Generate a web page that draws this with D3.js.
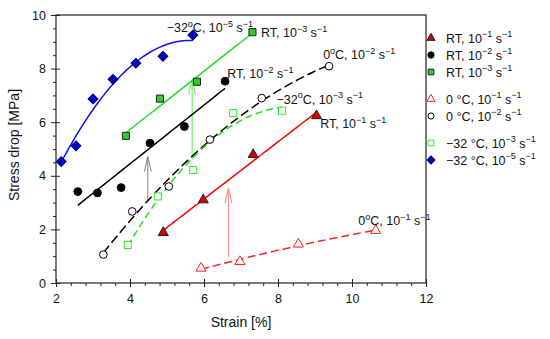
<!DOCTYPE html>
<html>
<head>
<meta charset="utf-8">
<script src="https://cdn.jsdelivr.net/npm/d3@7"></script>
<style>
body { margin: 0; background: #fff; }
text { font-family: Arial, "Liberation Sans", sans-serif; fill: #111; }
</style>
</head>
<body>
<svg id="svg" width="550" height="339"></svg>
<script>
// values: strain [%] vs stress drop [MPa]
var rt1Strain = [4.90, 5.98, 7.33, 9.04];
var rt1Drop   = [1.88, 3.10, 4.79, 6.24];
var rt2Strain = [2.59, 3.12, 3.76, 4.54, 5.47, 6.57];
var rt2Drop   = [3.41, 3.36, 3.56, 5.22, 5.84, 7.53];
var rt3Strain = [3.89, 4.81, 5.81, 7.31];
var rt3Drop   = [5.49, 6.88, 7.51, 9.36];
var c0r1Strain = [5.92, 6.97, 8.55, 10.64];
var c0r1Drop   = [0.55, 0.80, 1.45, 1.96];
var c0r2Strain = [3.28, 4.06, 5.05, 6.16, 7.56, 9.38];
var c0r2Drop   = [1.06, 2.67, 3.60, 5.35, 6.90, 8.09];
var m32r3Strain = [3.94, 4.75, 5.71, 6.79, 8.11];
var m32r3Drop   = [1.42, 3.23, 4.22, 6.34, 6.43];
var m32r5Strain = [2.14, 2.54, 3.00, 3.54, 4.16, 4.89, 5.70];
var m32r5Drop   = [4.53, 5.12, 6.87, 7.60, 8.20, 8.46, 9.25];

var xTicks = [2, 4, 6, 8, 10, 12];
var yTicks = [0, 2, 4, 6, 8, 10];

// series: legend label, in-plot label, fit degree, styles
var series = [
  {name: "RT, 10^{\u22121} s^{\u22121}", note: "RT, 10^{\u22121} s^{\u22121}", xs: rt1Strain, ys: rt1Drop, deg: 1,
   sym: d3.symbolTriangle, size: 44, fill: "#d40000", stroke: "#222", line: "#ff0000", dash: null},
  {name: "RT, 10^{\u22122} s^{\u22121}", note: "RT, 10^{\u22122} s^{\u22121}", xs: rt2Strain, ys: rt2Drop, deg: 1,
   sym: d3.symbolCircle, size: 48, fill: "#000", stroke: "#000", line: "#000", dash: null},
  {name: "RT, 10^{\u22123} s^{\u22121}", note: "RT, 10^{\u22123} s^{\u22121}", xs: rt3Strain, ys: rt3Drop, deg: 1,
   sym: d3.symbolSquare, size: 50, fill: "#2ecc2e", stroke: "#222", line: "#22dd22", dash: null},
  {name: "0 \u00b0C, 10^{\u22121} s^{\u22121}", note: "0^{o}C, 10^{\u22121} s^{\u22121}", xs: c0r1Strain, ys: c0r1Drop, deg: 2,
   sym: d3.symbolTriangle, size: 44, fill: "#fff", stroke: "#ff2020", line: "#ff2020", dash: "8,4"},
  {name: "0 \u00b0C, 10^{\u22122} s^{\u22121}", note: "0^{o}C, 10^{\u22122} s^{\u22121}", xs: c0r2Strain, ys: c0r2Drop, deg: 2,
   sym: d3.symbolCircle, size: 46, fill: "#fff", stroke: "#000", line: "#000", dash: "9,4"},
  {name: "\u221232 \u00b0C, 10^{\u22123} s^{\u22121}", note: "\u221232^{o}C, 10^{\u22123} s^{\u22121}", xs: m32r3Strain, ys: m32r3Drop, deg: 2,
   sym: d3.symbolSquare, size: 50, fill: "#fff", stroke: "#22ee22", line: "#22dd22", dash: "7,4"},
  {name: "\u221232 \u00b0C, 10^{\u22125} s^{\u22121}", note: "\u221232^{o}C, 10^{\u22125} s^{\u22121}", xs: m32r5Strain, ys: m32r5Drop, deg: 2,
   sym: d3.symbolSquare, size: 48, rot: 45, fill: "#0000cc", stroke: "#000066", line: "#1010ee", dash: null}
];

// where each series label sits (data units, text start / baseline)
var notePos = [[9.14, 5.78], [6.63, 7.64], [7.54, 9.18], [10.17, 2.17], [9.22, 8.34], [7.96, 6.69], [4.99, 9.35]];

// vertical arrows drawn on the figure
var arrows = [
  {x: 4.48, from: 3.10, to: 4.72, color: "#8a8a8a"},
  {x: 5.68, from: 4.60, to: 7.59, color: "#66ee66"},
  {x: 6.66, from: 0.98, to: 3.54, color: "#ff8a8a"}
];

var svg = d3.select("#svg");
var plotLeft = 56, plotRight = 426, plotTop = 15, plotBottom = 283;

var x = d3.scaleLinear().domain([2, 12]).range([plotLeft, plotRight]);
var y = d3.scaleLinear().domain([0, 10]).range([plotBottom, plotTop]);

// least squares polynomial fit
function polyFit(xs, ys, deg) {
  var n = deg + 1, A = [], b = [], i, j, k;
  for (i = 0; i < n; i++) {
    A[i] = [];
    for (j = 0; j < n; j++) A[i][j] = d3.sum(xs, function(v) { return Math.pow(v, i + j); });
    b[i] = d3.sum(xs, function(v, q) { return Math.pow(v, i) * ys[q]; });
  }
  for (i = 0; i < n; i++) {
    for (k = i + 1; k < n; k++) {
      var f = A[k][i] / A[i][i];
      for (j = i; j < n; j++) A[k][j] -= f * A[i][j];
      b[k] -= f * b[i];
    }
  }
  var c = [];
  for (i = n - 1; i >= 0; i--) {
    var s = b[i];
    for (j = i + 1; j < n; j++) s -= A[i][j] * c[j];
    c[i] = s / A[i][i];
  }
  return function(v) { return d3.sum(c, function(ci, p) { return ci * Math.pow(v, p); }); };
}

// text with ^{...} superscripts
function richText(sel, str, size) {
  var parts = str.split(/(\^\{[^}]*\})/), up = false;
  parts.forEach(function(p) {
    if (!p) return;
    if (p.charAt(0) === "^") {
      sel.append("tspan").attr("font-size", size * 0.72).attr("dy", -size * 0.42).text(p.slice(2, -1));
      up = true;
    } else {
      sel.append("tspan").attr("dy", up ? size * 0.42 : 0).text(p);
      up = false;
    }
  });
}

// axes
var gx = svg.append("g").attr("transform", "translate(0," + plotBottom + ")");
gx.call(d3.axisBottom(x).tickValues(d3.range(2, 12.01, 0.4).filter(function(v) { return Math.abs(v - Math.round(v / 2) * 2) > 0.01; }))
  .tickSize(3).tickFormat(""));
var gx2 = svg.append("g").attr("transform", "translate(0," + plotBottom + ")");
gx2.call(d3.axisBottom(x).tickValues(xTicks).tickSizeInner(4).tickSizeOuter(0).tickPadding(7));
gx2.selectAll(".tick line").attr("y1", -4);

var gy = svg.append("g").attr("transform", "translate(" + plotLeft + ",0)");
gy.call(d3.axisLeft(y).tickValues(d3.range(0, 10.01, 0.5).filter(function(v) { return v % 2 !== 0; }))
  .tickSize(3).tickFormat(""));
var gy2 = svg.append("g").attr("transform", "translate(" + plotLeft + ",0)");
gy2.call(d3.axisLeft(y).tickValues(yTicks).tickSizeInner(5).tickSizeOuter(0).tickPadding(5));
gy2.selectAll(".tick line").attr("x1", 4);

svg.selectAll(".domain").remove();
svg.selectAll(".tick text").attr("font-size", 12.5).attr("font-family", "Arial, 'Liberation Sans', sans-serif").attr("fill", "#111");
svg.selectAll(".tick line").attr("stroke", "#222");

svg.append("rect")
  .attr("x", plotLeft).attr("y", plotTop)
  .attr("width", plotRight - plotLeft).attr("height", plotBottom - plotTop)
  .attr("fill", "none").attr("stroke", "#222").attr("stroke-width", 1.2);

svg.append("text").attr("x", (plotLeft + plotRight) / 2).attr("y", 327)
  .attr("text-anchor", "middle").attr("font-size", 14).text("Strain [%]");
svg.append("text").attr("transform", "translate(19," + 145 + ") rotate(-90)")
  .attr("text-anchor", "middle").attr("font-size", 14).text("Stress drop [MPa]");

// arrows
arrows.forEach(function(a) {
  var ax = x(a.x), y0 = y(a.from), y1 = y(a.to);
  var g = svg.append("g").attr("stroke", a.color).attr("fill", "none").attr("stroke-width", 1.1);
  g.append("line").attr("x1", ax).attr("x2", ax).attr("y1", y0).attr("y2", y1);
  g.append("path").attr("d", "M" + (ax - 3.5) + "," + (y1 + 15) + "L" + ax + "," + y1 + "L" + (ax + 3.5) + "," + (y1 + 15));
});

// fit lines
var line = d3.line().x(function(d) { return x(d[0]); }).y(function(d) { return y(d[1]); });
series.forEach(function(s) {
  var fit = polyFit(s.xs, s.ys, s.deg);
  var x0 = d3.min(s.xs), x1 = d3.max(s.xs);
  var pts = d3.range(0, 41).map(function(k) { var v = x0 + (x1 - x0) * k / 40; return [v, fit(v)]; });
  svg.append("path").attr("d", line(pts))
    .attr("fill", "none").attr("stroke", s.line).attr("stroke-width", 1.5)
    .attr("stroke-dasharray", s.dash);
});

// markers
series.forEach(function(s) {
  svg.append("g").selectAll("path")
    .data(s.xs.map(function(v, i) { return [v, s.ys[i]]; }))
    .enter().append("path")
      .attr("d", d3.symbol().type(s.sym).size(s.size))
      .attr("transform", function(d) { return "translate(" + x(d[0]) + "," + y(d[1]) + ")" + (s.rot ? " rotate(" + s.rot + ")" : ""); })
      .attr("fill", s.fill).attr("stroke", s.stroke).attr("stroke-width", 1);
});

// in-plot labels
series.forEach(function(s, i) {
  var t = svg.append("text").attr("x", x(notePos[i][0])).attr("y", y(notePos[i][1])).attr("font-size", 12.5);
  richText(t, s.note, 12.5);
});

// legend
var legendY = [38, 55, 72, 99, 116, 143, 160];
var legend = svg.append("g");
series.forEach(function(s, i) {
  legend.append("path")
    .attr("d", d3.symbol().type(s.sym).size(s.size * 0.65))
    .attr("transform", "translate(431," + legendY[i] + ")" + (s.rot ? " rotate(" + s.rot + ")" : ""))
    .attr("fill", s.fill).attr("stroke", s.stroke).attr("stroke-width", 1);
  var t = legend.append("text").attr("x", 446).attr("y", legendY[i] + 4.5).attr("font-size", 12.5);
  richText(t, s.name, 12.5);
});
</script>
</body>
</html>
